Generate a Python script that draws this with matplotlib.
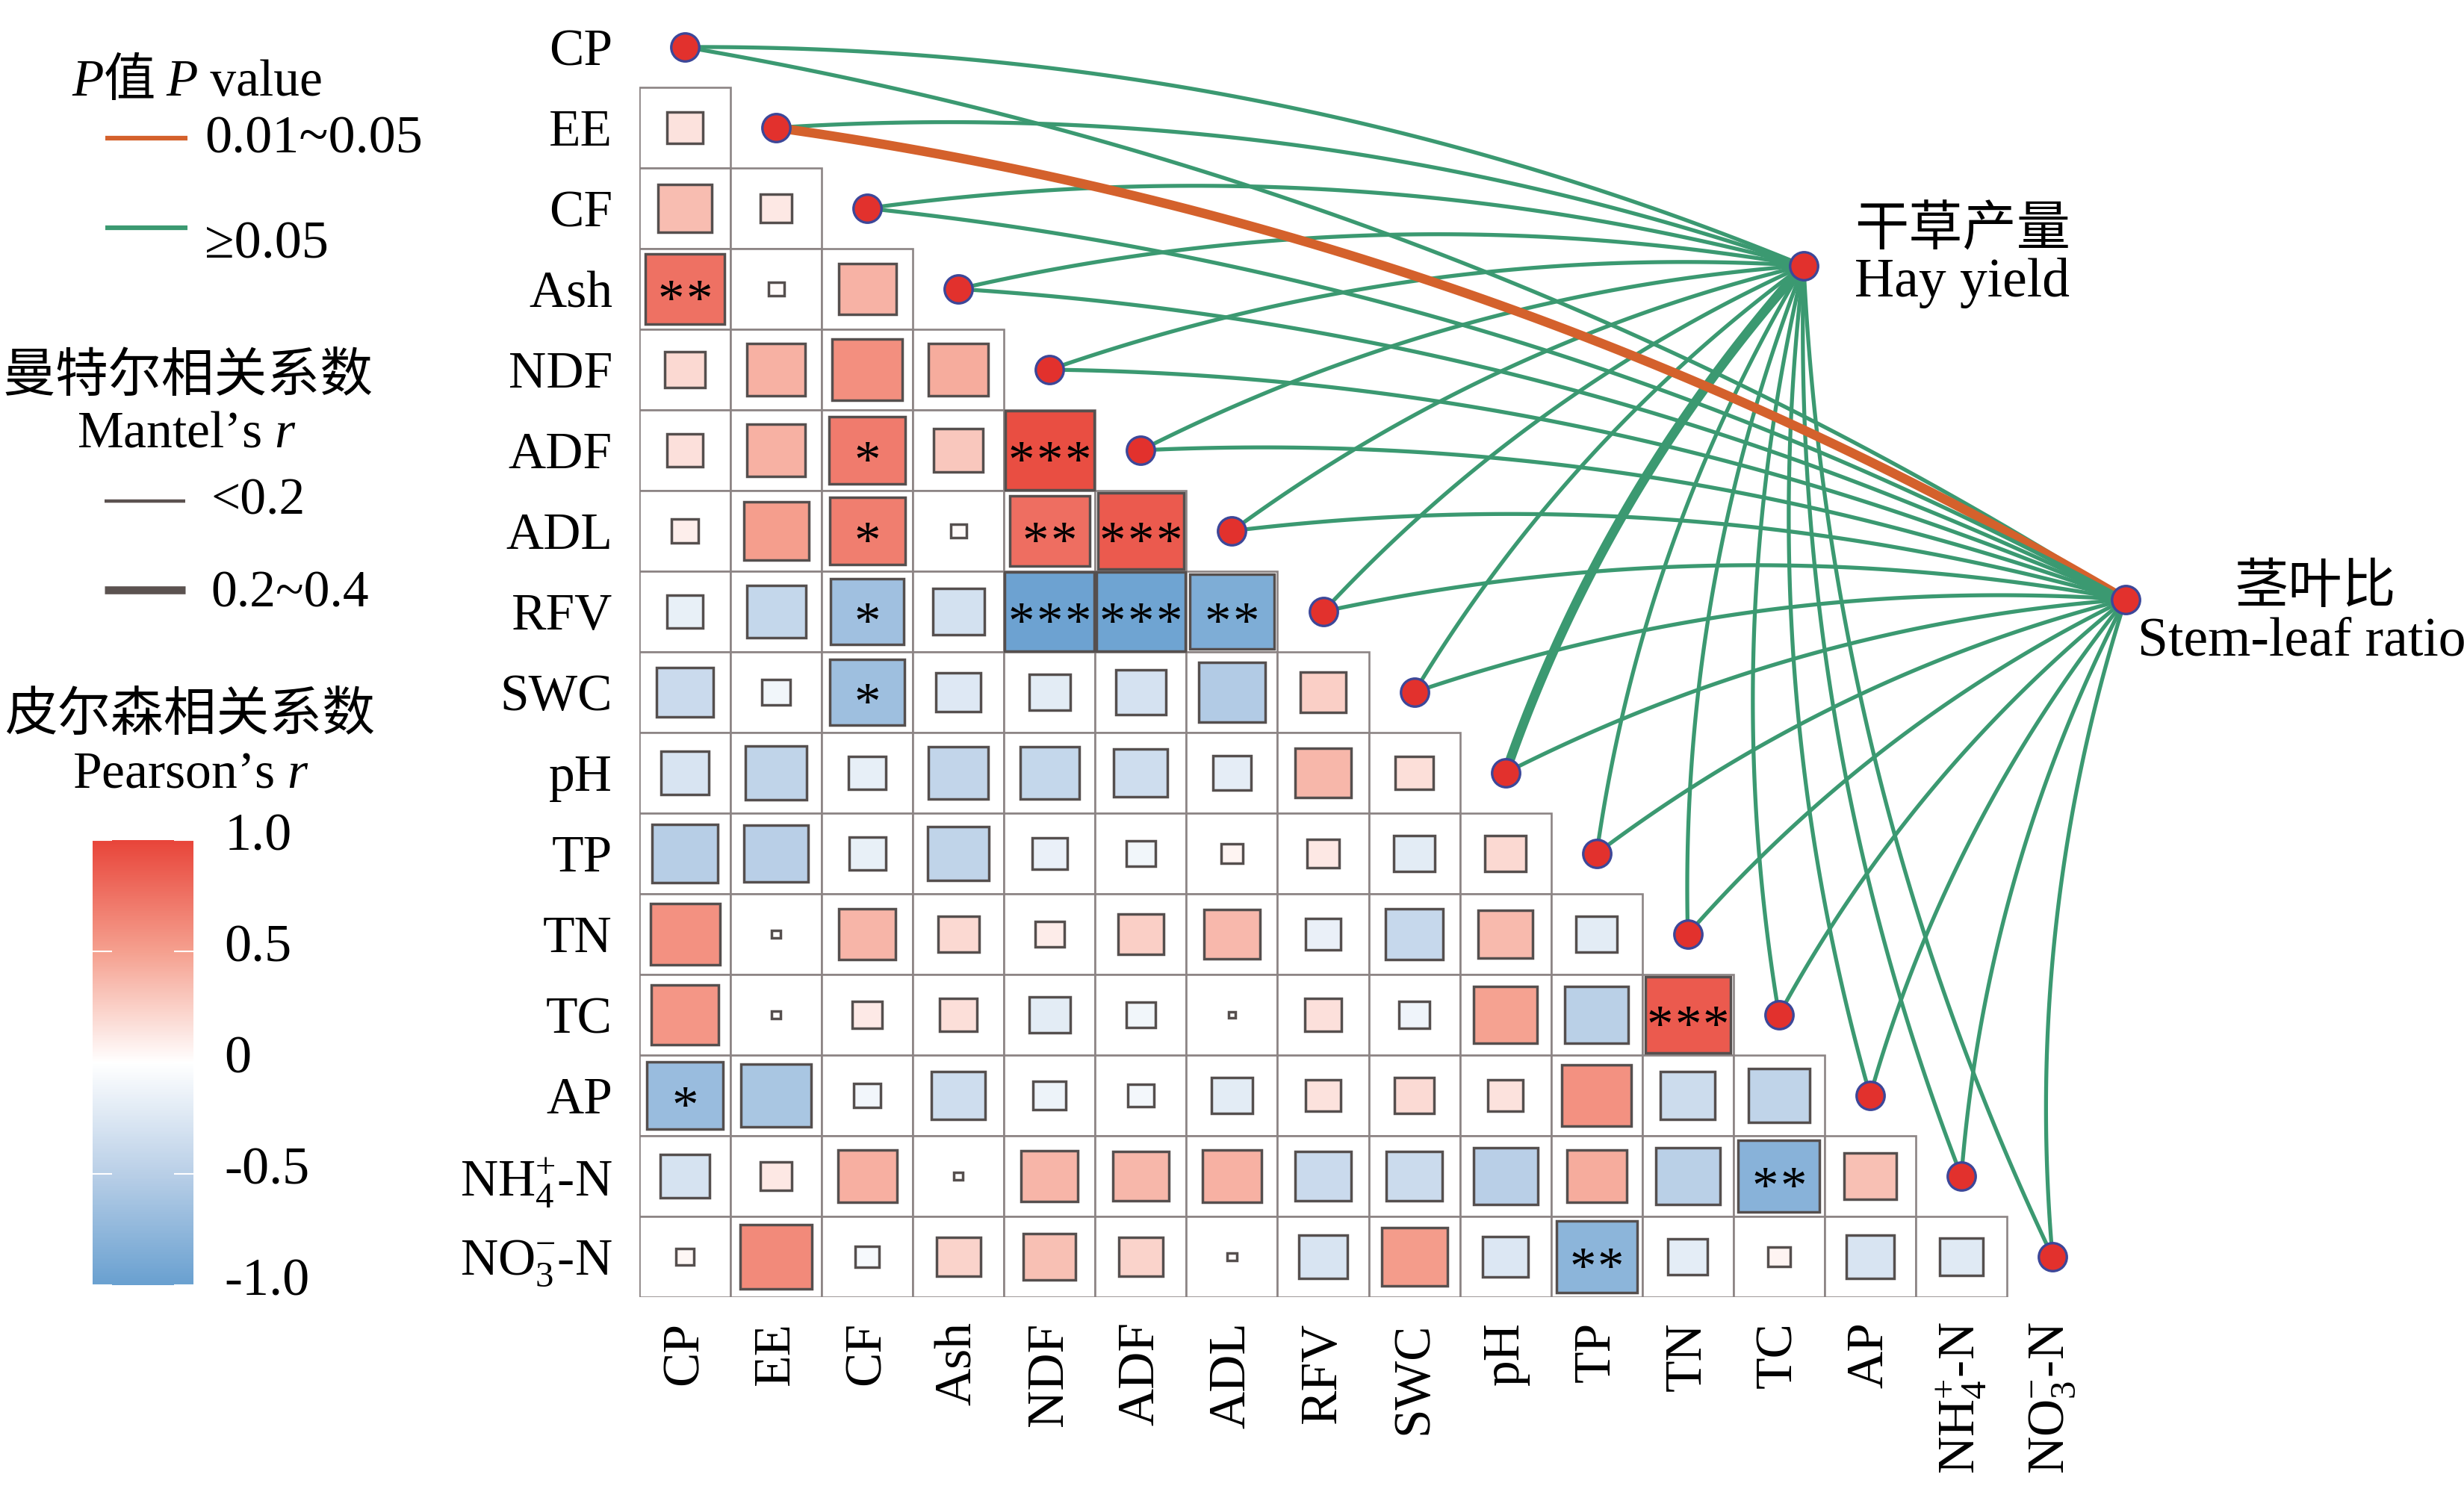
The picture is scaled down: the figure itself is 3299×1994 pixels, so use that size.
import numpy as np
import matplotlib
matplotlib.use("Agg")
import matplotlib.pyplot as plt
import matplotlib.transforms as mtransforms
from matplotlib.colors import LinearSegmentedColormap, Normalize
from matplotlib.patches import Rectangle
from matplotlib.cm import ScalarMappable

plt.rcParams['font.family'] = ['Liberation Serif', 'Noto Sans CJK SC', 'DejaVu Sans']
plt.rcParams['mathtext.fontset'] = 'custom'
plt.rcParams['mathtext.rm'] = 'Liberation Serif'
plt.rcParams['mathtext.it'] = 'Liberation Serif:italic'

# ---- data ----
variables = ["CP", "EE", "CF", "Ash", "NDF", "ADF", "ADL", "RFV", "SWC", "pH",
             "TP", "TN", "TC", "AP", r"NH$_4^{+}$-N", r"NO$_3^{-}$-N"]

# Pearson's r, lower triangle (row i holds columns 0..i-1)
pearson_r = [
    [],
    [0.15],
    [0.35, 0.12],
    [0.75, 0.03, 0.40],
    [0.20, 0.41, 0.59, 0.43],
    [0.16, 0.41, 0.70, 0.29, 0.95],
    [0.09, 0.51, 0.68, 0.03, 0.77, 0.88],
    [-0.16, -0.42, -0.65, -0.32, -0.97, -0.96, -0.86],
    [-0.38, -0.10, -0.67, -0.24, -0.20, -0.30, -0.54, 0.25],
    [-0.28, -0.45, -0.17, -0.43, -0.42, -0.35, -0.18, 0.38, 0.17],
    [-0.51, -0.50, -0.16, -0.45, -0.15, -0.10, 0.06, 0.12, -0.20, 0.20],
    [0.58, 0.01, 0.39, 0.20, 0.10, 0.25, 0.37, -0.15, -0.40, 0.36, -0.20],
    [0.55, 0.01, 0.11, 0.17, -0.20, -0.10, 0.005, 0.16, -0.11, 0.49, -0.49, 0.88],
    [-0.70, -0.60, -0.09, -0.35, -0.13, -0.08, -0.20, 0.15, 0.19, 0.15, 0.58, -0.36, -0.45],
    [-0.29, 0.12, 0.42, 0.01, 0.39, 0.38, 0.41, -0.38, -0.37, -0.50, 0.43, -0.49, -0.80, 0.33],
    [0.04, 0.62, -0.07, 0.23, 0.33, 0.23, 0.01, -0.28, 0.52, -0.25, -0.78, -0.19, 0.06, -0.28, -0.22],
]

# significance marks (row, col, number of stars)
signif = [(3, 0, 2), (5, 2, 1), (5, 4, 3), (6, 2, 1), (6, 4, 2),
          (6, 5, 3), (7, 2, 1), (7, 4, 3), (7, 5, 3), (7, 6, 2),
          (8, 2, 1), (12, 11, 3), (13, 0, 1), (14, 12, 2), (15, 10, 2)]

# Mantel test results per variable (CP ... NO3-N)
env_labels = [("干草产量", "Hay yield"), ("茎叶比", "Stem-leaf ratio")]
mantel_p = [
    [">=0.05"] * 16,
    [">=0.05", "0.01~0.05"] + [">=0.05"] * 14,
]
mantel_r = [
    ["<0.2"] * 9 + ["0.2~0.4"] + ["<0.2"] * 6,
    ["<0.2", "0.2~0.4"] + ["<0.2"] * 14,
]

p_colors = {"0.01~0.05": "#d4612c", ">=0.05": "#3b9971"}
r_widths = {"<0.2": 3.8, "0.2~0.4": 9.0}

cmap = LinearSegmentedColormap.from_list(
    "pr", [(0, "#69a0d0"), (0.25, "#b9cfe7"), (0.5, "#ffffff"),
           (0.75, "#f5a08f"), (1.0, "#e8453a")])
norm = Normalize(-1, 1)

# ---- figure ----
W, H = 3299, 1994
fig = plt.figure(figsize=(W / 100, H / 100), dpi=100)

# overlay axes in pixel units for legend & labels
lax = fig.add_axes([0, 0, 1, 1])
lax.set_xlim(0, W)
lax.set_ylim(H, 0)
lax.axis("off")

ax = fig.add_axes([856 / W, (H - 1737) / H, 2441.4 / W, 1728 / H])
ax.set_xlim(-0.5, 19.5)
ax.set_ylim(15.5, -0.5)
for s in ax.spines.values():
    s.set_visible(False)
ax.patch.set_visible(False)

n = len(variables)
for i in range(n):
    for j, r in enumerate(pearson_r[i]):
        ax.add_patch(Rectangle((j - 0.5, i - 0.5), 1, 1, facecolor="white",
                               edgecolor="#8c8484", lw=1.9, zorder=1))
        side = max(np.sqrt(abs(r)), 0.06)
        ax.add_patch(Rectangle((j - side / 2, i - side / 2), side, side,
                               facecolor=cmap(norm(r)), edgecolor="#554f4e",
                               lw=2.5, zorder=2))

# stars, one glyph each so spacing stays inside the cell
star_gap = 0.31
for i, j, k in signif:
    for s in range(k):
        ax.text(j + (s - (k - 1) / 2) * star_gap, i + 0.17, "*", ha="center",
                va="center", fontsize=51, zorder=3)

ax.set_yticks(range(n))
ax.set_yticklabels(variables, fontsize=50)
ax.set_xticks(range(n))
ax.set_xticklabels(variables, fontsize=50, rotation=90)
ax.tick_params(axis="y", length=0, pad=26)
ax.tick_params(axis="x", length=0, pad=24)

# env nodes (layout positions in cell units)
env_pos = [(12.27, 2.71), (15.80, 6.85)]


def curve(p0, p1, k=0.1, npts=80):
    a = ax.transData.transform(p0)
    b = ax.transData.transform(p1)
    d = b - a
    c = (a + b) / 2 + k * np.array([d[1], -d[0]])
    t = np.linspace(0, 1, npts)[:, None]
    pts = (1 - t) ** 2 * a + 2 * (1 - t) * t * c + t ** 2 * b
    return ax.transData.inverted().transform(pts)


for e, pos in enumerate(env_pos):
    for i in range(n):
        xy = curve(pos, (i, i))
        ax.plot(xy[:, 0], xy[:, 1], color=p_colors[mantel_p[e][i]],
                lw=r_widths[mantel_r[e][i]], solid_capstyle="round", zorder=4)

diag = np.arange(n)
ax.plot(diag, diag, "o", ms=27, mfc="#e2312d", mec="#3c4799", mew=2.4,
        ls="none", zorder=5, clip_on=False)
ax.plot([p[0] for p in env_pos], [p[1] for p in env_pos], "o", ms=27,
        mfc="#e2312d", mec="#3c4799", mew=2.4, ls="none", zorder=5)

# env labels
lax.text(2483, 310, env_labels[0][0], fontsize=52, va="center", ha="left", fontweight="light")
lax.text(2483, 379, env_labels[0][1], fontsize=53, va="center", ha="left")
lax.text(2992, 789, env_labels[1][0], fontsize=52, va="center", ha="left", fontweight="light")
lax.text(2862, 860, env_labels[1][1], fontsize=53, va="center", ha="left")

# ---- legends ----
fs = 50
t1 = lax.text(96, 128, "P", fontsize=fs, style="italic", va="baseline")
t2 = lax.annotate("值", xy=(1, 128), xycoords=(t1, "data"), fontsize=fs, va="baseline",
                  fontweight="light")
t3 = lax.annotate("P", xy=(1, 128), xycoords=(t2, "data"), xytext=(10, 0),
                  textcoords="offset points", fontsize=fs, style="italic", va="baseline")
lax.annotate(" value", xy=(1, 128), xycoords=(t3, "data"), fontsize=fs, va="baseline")

p_items = ["0.01~0.05", ">=0.05"]
p_text = ["0.01~0.05", "≥0.05"]
for k, (key, lab) in enumerate(zip(p_items, p_text)):
    y = [185, 305][k]
    lax.plot([141, 251], [y, y], color=p_colors[key], lw=4.5, solid_capstyle="butt")
    lax.text(274, [187, 328][k], lab, fontsize=52, va="center", ha="left")

lax.text(252, 507, "曼特尔相关系数", fontsize=51, va="center", ha="center", fontweight="light")
lax.text(250, 582, "Mantel’s $r$", fontsize=fs, va="center", ha="center")
r_items = ["<0.2", "0.2~0.4"]
for k, key in enumerate(r_items):
    y = [671, 790][k]
    lax.plot([140, 248], [y, y], color="#5b5250", lw=r_widths[key] * 0.85, solid_capstyle="butt")
    lax.text(282, [672, 796][k], key, fontsize=fs, va="center", ha="left")

lax.text(255, 960, "皮尔森相关系数", fontsize=51, va="center", ha="center", fontweight="light")
lax.text(255, 1038, "Pearson’s $r$", fontsize=fs, va="center", ha="center")

cax = fig.add_axes([124 / W, (H - 1721) / H, 135 / W, 596 / H])
sm = ScalarMappable(norm=norm, cmap=cmap)
cbar = fig.colorbar(sm, cax=cax)
cbar.outline.set_visible(False)
cbar_ticks = [1.0, 0.5, 0, -0.5, -1.0]
cbar.set_ticks(cbar_ticks)
cbar.set_ticklabels(["1.0", "0.5", "0", "-0.5", "-1.0"])
cax.tick_params(direction="in", color="white", length=19, width=1.5, left=True,
                right=True, labelleft=False, labelright=True, labelsize=52, pad=30)
shift = mtransforms.ScaledTranslation(0, 0.12, fig.dpi_scale_trans)
for lbl in cax.get_yticklabels():
    lbl.set_transform(lbl.get_transform() + shift)

fig.savefig("out.png", dpi=100)
